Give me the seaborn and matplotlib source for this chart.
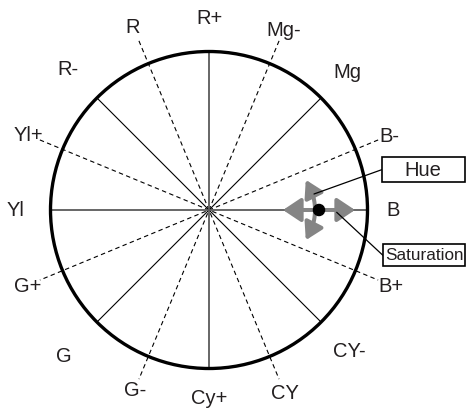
import numpy as np
import pandas as pd
import seaborn as sns
import matplotlib
matplotlib.use("Agg")
import matplotlib.pyplot as plt
from matplotlib.patches import Circle, Rectangle

# ---- data ----
labels = ["R+", "Mg-", "Mg", "B-", "B", "B+", "CY-", "CY",
          "Cy+", "G-", "G", "G+", "Yl", "Yl+", "R-", "R"]
label_angles = [90, 67.5, 45, 22.5, 0, -22.5, -45, -67.5,
                -90, -112.5, -135, -157.5, 180, 157.5, 135, 112.5]
gray_spokes = [0, 90]
black_spokes = [45, 135]
dashed_spokes = [22.5, 67.5, 112.5, 157.5]
callouts = ["Hue", "Saturation"]

# ---- layout (label distance from centre, px) ----
label_dist_px = [193, 195, 196, 195, 184, 197, 199, 198,
                 188, 194, 206, 196, 193, 196, 200, 199]

sns.set_theme(style="white")
plt.rcParams["font.family"] = ["Liberation Sans", "DejaVu Sans"]

S = 158.5  # px per unit
fig = plt.figure(figsize=(4.66, 4.10), dpi=100)
ax = fig.add_axes([0, 0, 1, 1])
ax.set_xlim(-209 / S, 257 / S)
ax.set_ylim(-199 / S, 211 / S)
ax.axis("off")


def P(x, y):
    """pixel (from top-left) -> data units"""
    return ((x - 209) / S, (211 - y) / S)


def spoke_frame(angles, r):
    rows = []
    for i, a in enumerate(angles):
        t = np.deg2rad(a)
        rows.append({"spoke": i, "x": r * np.cos(t), "y": r * np.sin(t)})
        rows.append({"spoke": i, "x": -r * np.cos(t), "y": -r * np.sin(t)})
    return pd.DataFrame(rows)


sns.lineplot(data=spoke_frame(dashed_spokes, 1.155), x="x", y="y", units="spoke",
             estimator=None, sort=False, color="black", lw=0.8,
             linestyle=(0, (4, 3)), ax=ax, legend=False)
sns.lineplot(data=spoke_frame(black_spokes, 1.0), x="x", y="y", units="spoke",
             estimator=None, sort=False, color="black", lw=0.8, ax=ax, legend=False)
sns.lineplot(data=spoke_frame(gray_spokes, 1.0), x="x", y="y", units="spoke",
             estimator=None, sort=False, color="#5a5a5a", lw=1.3, ax=ax, legend=False)

ax.add_patch(Circle((0, 0), 1.0, fill=False, lw=2.4, ec="black", zorder=5))

# labels
for lab, a, d in zip(labels, label_angles, label_dist_px):
    t = np.deg2rad(a)
    r = d / S
    ax.text(r * np.cos(t), r * np.sin(t), lab, ha="center", va="center",
            fontsize=14.5, color="#231f20", zorder=6)

gray = "#858585"
# saturation double arrow
ax.annotate("", xy=P(355, 211), xytext=P(283, 211),
            arrowprops=dict(arrowstyle="<|-|>,head_length=0.9,head_width=0.6",
                            color=gray, lw=2.9, shrinkA=0, shrinkB=0), zorder=7)

# hue curved arrow: arc around (261,211) px, radius 54 px
cx, cy, rr = 261, 211, 54
th = np.deg2rad(np.linspace(-26, 26, 40))
arc = np.array([P(cx + rr * np.cos(t), cy + rr * np.sin(t)) for t in th])
ax.plot(arc[:, 0], arc[:, 1], color=gray, lw=2.9, solid_capstyle="butt", zorder=7)
for sgn in (-1, 1):
    tip = np.deg2rad(34 * sgn)
    back = np.deg2rad(20 * sgn)
    ax.annotate("", xy=P(cx + rr * np.cos(tip), cy + rr * np.sin(tip)),
                xytext=P(cx + rr * np.cos(back), cy + rr * np.sin(back)),
                arrowprops=dict(arrowstyle="-|>,head_length=0.85,head_width=0.5",
                                color=gray, lw=2.9, shrinkA=0, shrinkB=0), zorder=7)
ax.add_patch(Circle(P(319, 211), 0.035, color="black", zorder=9))

# callout lines
ax.plot(*zip(P(381.7, 170.7), P(314, 195)), color="black", lw=0.9, zorder=8)
ax.plot(*zip(P(383.3, 256.7), P(336.7, 213.3)), color="black", lw=0.9, zorder=8)

# callout boxes
ax.add_patch(Rectangle(P(381.7, 182.7), (465 - 381.7) / S, (182.7 - 158.3) / S,
                       fc="white", ec="black", lw=1.2, zorder=8))
ax.text(*P(423.3, 170.5), callouts[0], ha="center", va="center",
        fontsize=14.5, color="#231f20", zorder=9)
ax.add_patch(Rectangle(P(383.3, 266.7), (465 - 383.3) / S, (266.7 - 245) / S,
                       fc="white", ec="black", lw=1.2, zorder=8))
ax.text(*P(424, 256), callouts[1], ha="center", va="center",
        fontsize=12.3, color="#231f20", zorder=9)

fig.savefig("out.png", dpi=100)
